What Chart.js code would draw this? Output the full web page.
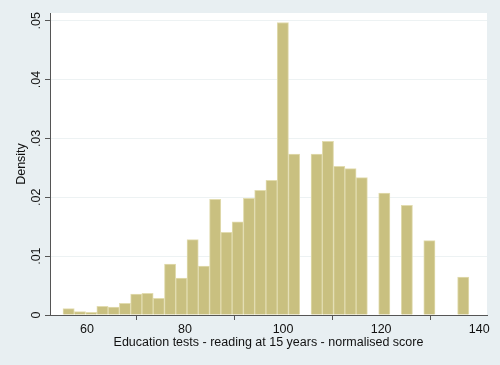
<!DOCTYPE html>
<html>
<head>
<meta charset="utf-8">
<script src="https://cdn.jsdelivr.net/npm/chart.js@4"></script>
<style>
  html, body { margin: 0; padding: 0; background: #e8eff2; }
  canvas { display: block; }
</style>
</head>
<body>
<canvas id="hist-chart" width="500" height="365"></canvas>
<script>
//histogram data (bin centres, bin width 2.3)
var binCenters = [56.25, 58.55, 60.85, 63.15, 65.45, 67.75, 70.05, 72.35, 74.65, 76.95,
    79.25, 81.55, 83.85, 86.15, 88.45, 90.75, 93.05, 95.35, 97.65, 99.95,
    102.25, 104.55, 106.85, 109.15, 111.45, 113.75, 116.05, 118.35, 120.65, 122.95,
    125.25, 127.55, 129.85, 132.15, 134.45, 136.75];
var density = [0.00107, 0.00056, 0.00046, 0.00148, 0.00136, 0.00198, 0.00357, 0.00368, 0.00283, 0.00866,
    0.00629, 0.0128, 0.00832, 0.01965, 0.01405, 0.01585, 0.01982, 0.02118, 0.02288, 0.0497,
    0.02735, 0, 0.02735, 0.0295, 0.02526, 0.02486, 0.02333, 0, 0.02073, 0,
    0.01863, 0, 0.01263, 0, 0, 0.00646];

//axis ticks
var xTicks = [60, 80, 100, 120, 140];
var yTicks = [0, 0.01, 0.02, 0.03, 0.04, 0.05];

var points = binCenters.map(function (c, i) { return {x: c, y: density[i]}; });

var axisColor = '#555';
var fontFamily = '"Liberation Sans", Arial, sans-serif';

//grey page, white plot region
var background = {
    id: 'background',
    beforeDraw: function (chart) {
        var c = chart.ctx, a = chart.chartArea;
        c.save();
        c.fillStyle = '#e8eff2';
        c.fillRect(0, 0, chart.width, chart.height);
        c.fillStyle = '#ffffff';
        c.fillRect(a.left, a.top, a.right - a.left, a.bottom - a.top);
        c.restore();
    }
};

var ctx = document.getElementById('hist-chart');

var myChart = new Chart(ctx, {
    type: 'bar',
    data: {
        datasets: [{
            label: 'Density',
            data: points,
            backgroundColor: 'rgb(201, 192, 128)',
            borderColor: 'rgb(226, 220, 176)',
            borderWidth: 1,
            barPercentage: 1,
            categoryPercentage: 1
        }]
    },
    options: {
        responsive: false,
        animation: false,
        layout: { padding: { top: 13, right: 13, left: 0, bottom: 0 } },
        plugins: {
            legend: { display: false },
            tooltip: { enabled: false }
        },
        scales: {
            x: {
                type: 'linear',
                min: 52.45,
                max: 141.6,
                offset: false,
                afterFit: function (s) { s.height = 50; },
                afterBuildTicks: function (s) { s.ticks = xTicks.map(function (v) { return {value: v}; }); },
                grid: { drawOnChartArea: false, tickLength: 5, tickColor: axisColor },
                border: { color: axisColor, width: 1 },
                ticks: { color: '#111', padding: 2, font: { family: fontFamily, size: 12.5 } },
                title: {
                    display: true,
                    text: 'Education tests - reading at 15 years - normalised score',
                    color: '#111',
                    padding: { top: 0, bottom: 14.5 },
                    font: { family: fontFamily, size: 12.5 }
                }
            },
            y: {
                min: 0,
                max: 0.05131,
                afterFit: function (s) { s.width = 50; },
                afterBuildTicks: function (s) { s.ticks = yTicks.map(function (v) { return {value: v}; }); },
                grid: { color: '#edf2f3', tickLength: 5, tickColor: axisColor },
                border: { color: axisColor, width: 1 },
                ticks: {
                    color: '#111',
                    padding: 0,
                    minRotation: 90,
                    maxRotation: 90,
                    crossAlign: 'center',
                    font: { family: fontFamily, size: 12.5 },
                    callback: function (v) { return v === 0 ? '0' : v.toFixed(2).replace(/^0/, ''); }
                },
                title: {
                    display: true,
                    text: 'Density',
                    color: '#111',
                    padding: { top: 14.5, bottom: 0 },
                    font: { family: fontFamily, size: 12.5 }
                }
            }
        }
    },
    plugins: [background]
});
</script>
</body>
</html>
